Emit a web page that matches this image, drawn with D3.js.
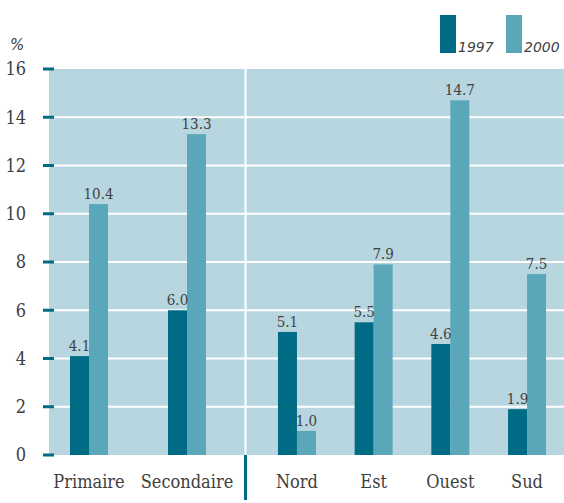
<!DOCTYPE html>
<html>
<head>
<meta charset="utf-8">
<script src="https://cdn.jsdelivr.net/npm/d3@7"></script>
<style>
  body { margin: 0; background: #fff; }
  svg { display: block; }
</style>
</head>
<body>
<svg id="chart" width="564" height="503"></svg>
<script>
// Data
var levels = ["Primaire", "Secondaire"];
var regions = ["Nord", "Est", "Ouest", "Sud"];
var years = ["1997", "2000"];
var values1997 = [4.1, 6.0, 5.1, 5.5, 4.6, 1.9];
var values2000 = [10.4, 13.3, 1.0, 7.9, 14.7, 7.5];
var yTicks = [0, 2, 4, 6, 8, 10, 12, 14, 16];

var cfg = {
  "width": 564, "height": 503,
  "dark": "#006b84", "light": "#5ba7ba", "bg": "#b8d6e0", "text": "#404040",
  "serif": "'DejaVu Serif', serif"
};

var svg = d3.select("#chart");

// Plot margins
var margin = {top: 69, right: 0, bottom: 48, left: 49},
  plotRight = cfg.width - margin.right,
  plotBottom = cfg.height - margin.bottom,
  sepX = 245.5;

// Scales
var y = d3.scaleLinear().domain([0, 16]).range([plotBottom, margin.top]);
var xLeft = d3.scaleBand().domain(levels).range([40, 236]);
var xRight = d3.scaleBand().domain(regions).range([258.6, 565.4]);
var barW = 19;

var categories = levels.concat(regions);
var rows = categories.map((c, i) => ({
  name: c,
  cx: (i < levels.length ? xLeft(c) + xLeft.bandwidth() / 2 : xRight(c) + xRight.bandwidth() / 2),
  v1997: values1997[i],
  v2000: values2000[i]
}));

// Background
svg.append("rect")
  .attr("x", margin.left).attr("y", margin.top)
  .attr("width", plotRight - margin.left).attr("height", plotBottom - margin.top)
  .attr("fill", cfg.bg);

// Gridlines
svg.append("g").selectAll("line")
  .data(yTicks.filter((t) => t > 0 && t < 16))
  .enter().append("line")
  .attr("x1", margin.left).attr("x2", plotRight)
  .attr("y1", (d) => y(d)).attr("y2", (d) => y(d))
  .attr("stroke", "#fff").attr("stroke-width", 2);

// Vertical separator
svg.append("line")
  .attr("x1", sepX).attr("x2", sepX)
  .attr("y1", margin.top).attr("y2", plotBottom)
  .attr("stroke", "#fff").attr("stroke-width", 2);
svg.append("line")
  .attr("x1", sepX).attr("x2", sepX)
  .attr("y1", plotBottom).attr("y2", 500)
  .attr("stroke", cfg.dark).attr("stroke-width", 3);

// Y axis: short dashes + labels
var yAxis = svg.append("g");
yAxis.selectAll("line")
  .data(yTicks).enter().append("line")
  .attr("x1", 43).attr("x2", 54)
  .attr("y1", (d) => y(d)).attr("y2", (d) => y(d))
  .attr("stroke", cfg.dark).attr("stroke-width", 3);
yAxis.selectAll("text")
  .data(yTicks).enter().append("text")
  .attr("x", 26).attr("y", (d) => y(d))
  .attr("dy", "0.36em")
  .attr("text-anchor", "end")
  .style("font-family", cfg.serif)
  .style("font-stretch", "condensed")
  .style("font-size", "18px")
  .style("fill", cfg.text)
  .text((d) => d);

// Bars
var bars = svg.append("g");
bars.selectAll(".b1997")
  .data(rows).enter().append("rect")
  .attr("class", "b1997")
  .attr("x", (d) => d.cx - barW).attr("width", barW)
  .attr("y", (d) => y(d.v1997)).attr("height", (d) => y(0) - y(d.v1997))
  .attr("fill", cfg.dark);
bars.selectAll(".b2000")
  .data(rows).enter().append("rect")
  .attr("class", "b2000")
  .attr("x", (d) => d.cx).attr("width", barW)
  .attr("y", (d) => y(d.v2000)).attr("height", (d) => y(0) - y(d.v2000))
  .attr("fill", cfg.light);

// Value labels
var lbl = svg.append("g")
  .style("font-family", cfg.serif)
  .style("font-stretch", "condensed")
  .style("font-size", "15px")
  .style("fill", cfg.text)
  .attr("text-anchor", "middle");
lbl.selectAll(".l1997")
  .data(rows).enter().append("text")
  .attr("x", (d) => d.cx - barW / 2)
  .attr("y", (d) => y(d.v1997) - 5)
  .text((d) => d.v1997.toFixed(1));
lbl.selectAll(".l2000")
  .data(rows).enter().append("text")
  .attr("x", (d) => d.cx + barW / 2)
  .attr("y", (d) => y(d.v2000) - 5)
  .text((d) => d.v2000.toFixed(1));

// Category labels
svg.append("g").selectAll("text")
  .data(rows).enter().append("text")
  .attr("x", (d) => d.cx)
  .attr("y", 488)
  .attr("text-anchor", "middle")
  .style("font-family", cfg.serif)
  .style("font-stretch", "condensed")
  .style("font-size", "18px")
  .style("fill", cfg.text)
  .text((d) => d.name);

// Percent sign
svg.append("text")
  .attr("x", 10).attr("y", 50)
  .style("font-family", "'DejaVu Sans', sans-serif")
  .style("font-style", "italic")
  .style("font-size", "15px")
  .style("fill", cfg.text)
  .text("%");

// Legend
var legend = svg.append("g");
var legendX = [440, 506];
legend.selectAll("rect")
  .data(years).enter().append("rect")
  .attr("x", (d, i) => legendX[i]).attr("y", 15)
  .attr("width", 16).attr("height", 38)
  .attr("fill", (d, i) => i === 0 ? cfg.dark : cfg.light);
legend.selectAll("text")
  .data(years).enter().append("text")
  .attr("x", (d, i) => legendX[i] + 18).attr("y", 52)
  .style("font-family", "'DejaVu Sans', sans-serif")
  .style("font-style", "italic")
  .style("font-size", "14px")
  .style("fill", cfg.text)
  .text((d) => d);
</script>
</body>
</html>
